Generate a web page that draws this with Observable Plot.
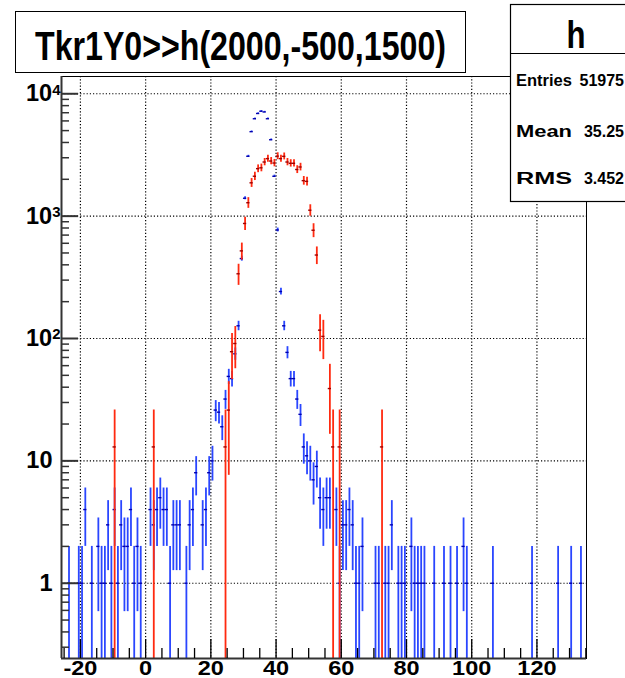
<!DOCTYPE html>
<html><head><meta charset="utf-8">
<script src="https://cdn.jsdelivr.net/npm/d3@7"></script>
<script src="https://cdn.jsdelivr.net/npm/@observablehq/plot@0.6"></script>
<style>
html,body{margin:0;padding:0;background:#fff;overflow:hidden;}
#wrap{position:relative;width:625px;height:678px;overflow:hidden;background:#fff;}
#overlay{position:absolute;left:0;top:0;}
</style></head><body><div id="wrap"></div>
<script>
// ---- data ----
const blueBin = [-24,-21,-20,-19,-17,-15,-14,-13,-12,-11,-10,-9,-8,-7,-6,-5,-4,-3,-2,
  1,2,3,4,5,6,7,8,9,10,12,13,14,15,17,18,19,20,21,22,23,24,25,26,27,28,29,30,
  31,32,33,34,35,36,37,38,39,40,41,42,43,44,45,46,47,48,49,50,51,52,53,54,55,56,
  58,59,60,61,62,63,64,65,66,70,71,73,74,75,77,78,79,81,82,83,84,85,88,91,93,95,
  97,98,106,118,126,130,133];
const blueCount = [1,1,1,4,1,2,1,1,3,1,4,1,3,2,2,4,1,2,1,
  4,3,4,5,4,4,1,3,3,3,1,3,4,8,3,4,8,10,26,25,19,32,49,47,75,127,450,1400,
  3085,4900,6250,6900,7200,7100,6250,4210,2117,771,242,127,77,47,47,32,24,13,11,10,7,9,5,4,5,5,
  4,1,3,3,4,3,1,1,2,1,1,1,1,3,1,1,1,2,1,1,1,1,1,1,1,1,
  2,1,1,1,1,1,1];
const redBin = [-10,2,24,25,26,27,28,29,30,31,32,33,34,35,36,37,38,39,40,41,42,43,44,45,46,47,48,49,50,51,52,53,54,56,57,59,72];
const redRaw = [1,1,1,2,6,7,26,40,67,99,144,163,188,191,213,227,217,209,238,227,237,213,208,208,185,194,150,148,86,59,37,9,8,3,1,1,1];
const redScale = 13;

const xTicks = [-20,0,20,40,60,80,100,120];
const yTicks = [1,10,100,1000,10000];
const yTickLabels = ["1","10","10^2","10^3","10^4"];
const titleText = "Tkr1Y0>>h(2000,-500,1500)";
const statsName = "h";
const statLabels = ["Entries","Mean","RMS"];
const statValues = ["51975","35.25","3.452"];

// ---- layout ----
const W = 625, H = 678, mL = 61, mR = 39, mT = 76, mB = 20;
const fw = W - mL - mR, fh = H - mT - mB;
const xDomain = [-25.8, 135.2];
const yDomain = [0.2426, 13840];
const xMinor = d3.range(-25, 136, 5).filter(d => d % 20 !== 0);
const yMinor = [];
[0.1, 1, 10, 100, 1000].forEach(dec => { for (let k = 2; k <= 9; k++) { const v = k * dec; if (v > yDomain[0] && v < yDomain[1]) yMinor.push(v); } });

const blue = blueBin.map((b, i) => ({b, v: blueCount[i], e: Math.sqrt(blueCount[i])}));
const red = redBin.map((b, i) => ({b, v: redRaw[i] * redScale, e: Math.sqrt(redRaw[i]) * redScale}));
const floorV = 0.05;
const errMarks = (data, color, dark) => [
  Plot.ruleX(data, {x: d => d.b + 0.5, y1: d => Math.max(d.v - d.e, floorV), y2: d => d.v + d.e, stroke: color, strokeWidth: 1.8, clip: true}),
  Plot.ruleY(data, {x1: d => d.b, x2: d => d.b + 1, y: d => d.v, stroke: dark, strokeWidth: 1.4, clip: true})
];
const labelMap = new Map(yTicks.map((t, i) => [t, yTickLabels[i]]));

const chart = Plot.plot({
  width: W, height: H,
  marginLeft: mL, marginRight: mR, marginTop: mT, marginBottom: mB,
  style: {fontFamily: "'Liberation Sans', Arial, sans-serif", background: "white", color: "black"},
  x: {domain: xDomain},
  y: {type: "log", domain: yDomain},
  marks: [
    Plot.ruleX(xTicks, {stroke: "#000", strokeDasharray: "1.2,2", strokeWidth: 1.2}),
    Plot.ruleY(yTicks, {stroke: "#000", strokeDasharray: "1.2,2", strokeWidth: 1.2}),
    ...errMarks(blue, "#2a46ff", "#0000b0"),
    ...errMarks(red, "#ff2a10", "#a00000"),
    Plot.frame({stroke: "#000", strokeWidth: 1}),
    Plot.ruleY([yDomain[0]], {stroke: "#333", strokeWidth: 2}),
    Plot.ruleX([xDomain[0]], {stroke: "#333", strokeWidth: 2}),
    Plot.ruleX(xTicks, {insetTop: fh - 19, stroke: "#000", strokeWidth: 1.3}),
    Plot.ruleX(xMinor, {insetTop: fh - 10, stroke: "#000", strokeWidth: 1.3}),
    Plot.ruleY(yTicks, {insetRight: fw - 17, stroke: "#333", strokeWidth: 2}),
    Plot.ruleY(yMinor, {insetRight: fw - 8, stroke: "#333", strokeWidth: 1.5}),
    Plot.axisX({ticks: xTicks, tickSize: 0, tickPadding: 1.5, tickFormat: d => String(d), fontSize: 21, fontWeight: "bold", label: null}),
    Plot.axisY({ticks: yTicks, tickSize: 0, tickPadding: 9, tickFormat: d => labelMap.get(d), fontSize: 23.5, fontWeight: "bold", label: null})
  ]
});
document.getElementById("wrap").appendChild(chart);

// x labels: a little wider, like the reference glyphs
d3.select(chart).selectAll('g[aria-label="x-axis tick label"] text').each(function () {
  const w = this.getComputedTextLength();
  d3.select(this).attr("textLength", w * 1.12).attr("lengthAdjust", "spacingAndGlyphs");
});

// superscript exponents on the y labels
d3.select(chart).selectAll('g[aria-label="y-axis tick label"] text').each(function () {
  const t = this.textContent;
  if (t.includes("^")) {
    const [base, exp] = t.split("^");
    const s = d3.select(this);
    s.text(null);
    s.append("tspan").text(base);
    s.append("tspan").attr("dy", "-0.45em").attr("font-size", 15).text(exp);
    s.attr("dx", 8);
  }
});

// ---- title box and stats box (overlay) ----
const ov = d3.select("#wrap").append("svg").attr("id", "overlay").attr("width", W).attr("height", H)
  .style("font-family", "'Liberation Sans', Arial, sans-serif");
ov.append("rect").attr("x", 15.5).attr("y", 11.5).attr("width", 450).attr("height", 61)
  .attr("fill", "white").attr("stroke", "black").attr("stroke-width", 1);
ov.append("text").attr("x", 35).attr("y", 60).attr("font-size", 41).attr("font-weight", "bold")
  .attr("textLength", 411).attr("lengthAdjust", "spacingAndGlyphs").text(titleText);

ov.append("rect").attr("x", 510.5).attr("y", 4.5).attr("width", 140).attr("height", 197)
  .attr("fill", "white").attr("stroke", "black").attr("stroke-width", 1.2);
ov.append("line").attr("x1", 510.5).attr("x2", 651).attr("y1", 53.5).attr("y2", 53.5).attr("stroke", "black");
ov.append("text").attr("x", 576).attr("y", 48).attr("text-anchor", "middle").attr("font-size", 38)
  .attr("font-weight", "bold").attr("textLength", 19).attr("lengthAdjust", "spacingAndGlyphs").text(statsName);
const rowY = [86, 137, 184];
statLabels.forEach((lab, i) => {
  ov.append("text").attr("x", 516).attr("y", rowY[i]).attr("font-size", 16).attr("font-weight", "bold")
    .attr("textLength", 56).attr("lengthAdjust", "spacingAndGlyphs").text(lab);
  ov.append("text").attr("x", 624).attr("y", rowY[i]).attr("text-anchor", "end").attr("font-size", 16).attr("font-weight", "bold")
    .text(statValues[i]);
});
</script>
</body></html>
